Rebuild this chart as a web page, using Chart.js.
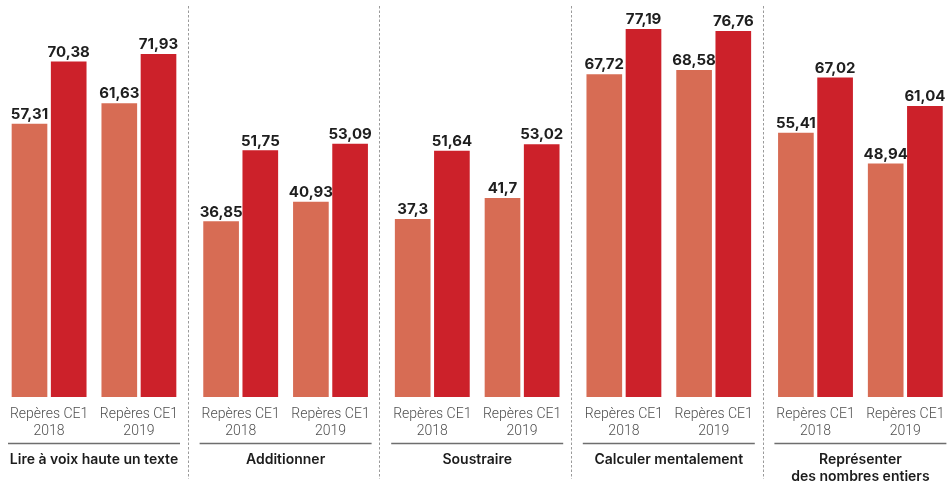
<!DOCTYPE html>
<html>
<head>
<meta charset="utf-8">
<script src="https://cdn.jsdelivr.net/npm/chart.js@4"></script>
<style>
  html, body { margin: 0; padding: 0; background: #ffffff; }
  #wrap { width: 948px; height: 487px; position: relative; }
</style>
</head>
<body>
<div id="wrap"><canvas id="c" width="948" height="487"></canvas></div>
<script>
// ---- Data ----
const groupLabels = ['Lire à voix haute un texte', 'Additionner', 'Soustraire', 'Calculer mentalement', ['Représenter', 'des nombres entiers']];
const subLabels = [['Repères CE1', '2018'], ['Repères CE1', '2019']];
// one value per (group, sub) pair, in order
const seriesLight = [57.31, 61.63, 36.85, 40.93, 37.3, 41.7, 67.72, 68.58, 55.41, 48.94];
const seriesDark  = [70.38, 71.93, 51.75, 53.09, 51.64, 53.02, 77.19, 76.76, 67.02, 61.04];

// ---- Layout (x units) ----
const GROUP_STEP = 191.6;
const SUB_STEP = 89.8;
const BAR_STEP = 39.2;
const BAR_W = 35;
const X_MIN = -49.1;
const X_MAX = 948 - 49.1;
const SEP_OFF = 138.6;

function subCenter(i) {
  const g = Math.floor(i / 2), s = i % 2;
  return g * GROUP_STEP + s * SUB_STEP;
}
const subCenters = seriesLight.map((_, i) => subCenter(i));
const lightPts = seriesLight.map((v, i) => ({ x: subCenters[i] - BAR_STEP / 2, y: v }));
const darkPts = seriesDark.map((v, i) => ({ x: subCenters[i] + BAR_STEP / 2, y: v }));

const COL_LIGHT = '#D76C54';
const COL_DARK = '#CC212A';

const decorPlugin = {
  id: 'decor',
  afterDatasetsDraw(chart) {
    const ctx = chart.ctx;
    const xs = chart.scales.x;
    ctx.save();
    // dashed separators
    ctx.strokeStyle = '#9a9a9a';
    ctx.lineWidth = 1;
    ctx.setLineDash([2.5, 2]);
    for (let g = 0; g < groupLabels.length - 1; g++) {
      const px = Math.round(xs.getPixelForValue(g * GROUP_STEP + SEP_OFF)) + 0.5;
      ctx.beginPath();
      ctx.moveTo(px, 6);
      ctx.lineTo(px, 479);
      ctx.stroke();
    }
    ctx.setLineDash([]);
    // underline + group labels
    for (let g = 0; g < groupLabels.length; g++) {
      const left = xs.getPixelForValue(subCenters[g * 2] - BAR_STEP / 2) - BAR_W / 2 - 4;
      const right = xs.getPixelForValue(subCenters[g * 2 + 1] + BAR_STEP / 2) + BAR_W / 2 + 4;
      ctx.strokeStyle = '#6e6e6e';
      ctx.lineWidth = 1.3;
      ctx.beginPath();
      ctx.moveTo(left, 443.5);
      ctx.lineTo(right, 443.5);
      ctx.stroke();
      const cx = (left + right) / 2;
      ctx.fillStyle = '#1c1c1c';
      ctx.font = '600 14px "Inter", "Roboto", sans-serif';
      ctx.textAlign = 'center';
      ctx.textBaseline = 'middle';
      const lines = Array.isArray(groupLabels[g]) ? groupLabels[g] : [groupLabels[g]];
      lines.forEach((t, k) => ctx.fillText(t, cx, 459.5 + k * 17));
    }
    // value labels
    ctx.font = '700 15px "Inter", "Roboto", sans-serif';
    ctx.fillStyle = '#1e1e1e';
    ctx.textAlign = 'center';
    ctx.textBaseline = 'alphabetic';
    chart.data.datasets.forEach((ds, di) => {
      const meta = chart.getDatasetMeta(di);
      meta.data.forEach((bar, i) => {
        const v = ds.data[i].y;
        ctx.fillText(String(v).replace('.', ','), bar.x, bar.y - 5);
      });
    });
    ctx.restore();
  }
};

new Chart(document.getElementById('c'), {
  type: 'bar',
  data: {
    datasets: [
      { label: 'A', data: lightPts, backgroundColor: COL_LIGHT, grouped: false, barThickness: BAR_W },
      { label: 'B', data: darkPts, backgroundColor: COL_DARK, grouped: false, barThickness: BAR_W }
    ]
  },
  options: {
    responsive: false,
    animation: false,
    devicePixelRatio: 1,
    layout: { autoPadding: false, padding: { top: 16, left: 0, right: 0, bottom: 0 } },
    plugins: { legend: { display: false }, tooltip: { enabled: false } },
    scales: {
      x: {
        type: 'linear',
        offset: false,
        min: X_MIN,
        max: X_MAX,
        grid: { display: false },
        border: { display: false },
        afterFit(scale) { scale.height = 90; scale.paddingLeft = 0; scale.paddingRight = 0; },
        afterBuildTicks(scale) { scale.ticks = subCenters.map(v => ({ value: v })); },
        ticks: {
          autoSkip: false,
          maxRotation: 0,
          minRotation: 0,
          padding: 1,
          color: '#505050',
          font: { family: '"Roboto", "Inter", sans-serif', size: 14, weight: '300', lineHeight: 1.2 },
          callback(value, index) { return subLabels[index % 2]; }
        }
      },
      y: {
        display: false,
        min: 0,
        max: 80
      }
    }
  },
  plugins: [decorPlugin]
});
</script>
</body>
</html>
